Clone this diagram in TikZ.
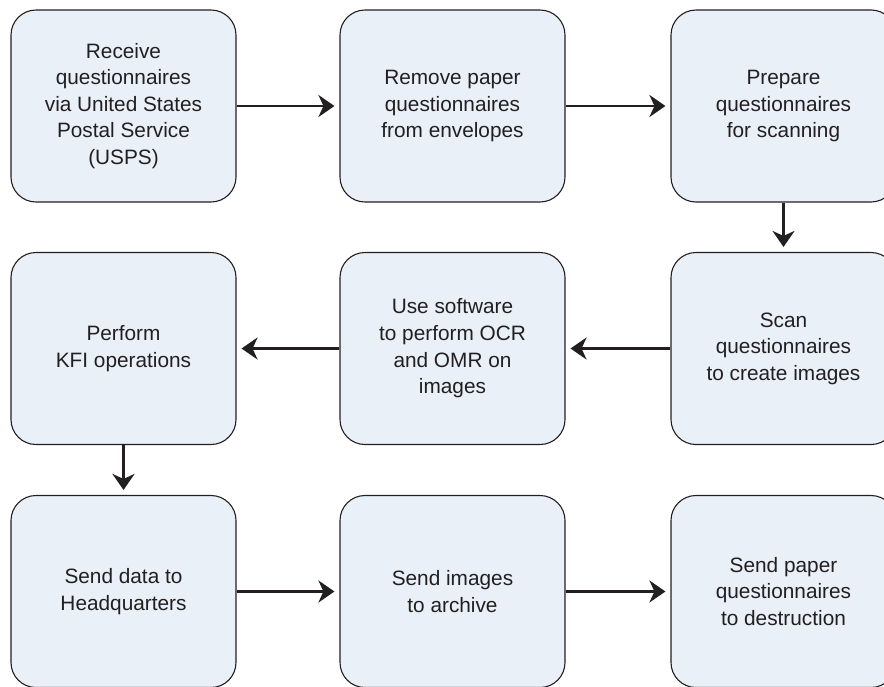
\documentclass[tikz,border=0pt]{standalone}
\usepackage{fontspec}
\setmainfont{Liberation Sans}
\usetikzlibrary{arrows.meta}
\definecolor{boxfill}{RGB}{234,240,248}
\definecolor{boxline}{RGB}{35,31,32}
\definecolor{txt}{RGB}{35,31,32}
\tikzset{
  stepbox/.style={draw=boxline, line width=1.1pt, fill=boxfill, rounded corners=25pt,
    minimum width=225pt, minimum height=192pt, align=center, text=txt,
    font=\fontsize{20.8pt}{26.6pt}\selectfont, inner sep=0pt},
  flow/.style={draw=boxline, line width=2.6pt,
    -{Stealth[length=16pt,width=22pt,inset=5pt]}, shorten >=5pt}
}
\begin{document}
\begin{tikzpicture}[x=1pt,y=-1pt]
\useasboundingbox (0,0) rectangle (884,686);
\node[stepbox] (a) at (123.5,106) {Receive\\questionnaires\\via United States\\Postal Service\\(USPS)};
\node[stepbox] (b) at (452.5,106) {Remove paper\\questionnaires\\from envelopes};
\node[stepbox] (c) at (783.5,106) {Prepare\\questionnaires\\for scanning};
\node[stepbox] (f) at (123.5,348.5) {Perform\\KFI operations};
\node[stepbox] (e) at (452.5,348.5) {Use software\\to perform OCR\\and OMR on\\images};
\node[stepbox] (d) at (783.5,348.5) {Scan\\questionnaires\\to create images};
\node[stepbox] (g) at (123.5,591.5) {Send data to\\Headquarters};
\node[stepbox] (h) at (452.5,591.5) {Send images\\to archive};
\node[stepbox] (i) at (783.5,591.5) {Send paper\\questionnaires\\to destruction};
\draw[flow] (a) -- (b);
\draw[flow] (b) -- (c);
\draw[flow] (c) -- (d);
\draw[flow] (d) -- (e);
\draw[flow] (e) -- (f);
\draw[flow] (f) -- (g);
\draw[flow] (g) -- (h);
\draw[flow] (h) -- (i);
\end{tikzpicture}
\end{document}
